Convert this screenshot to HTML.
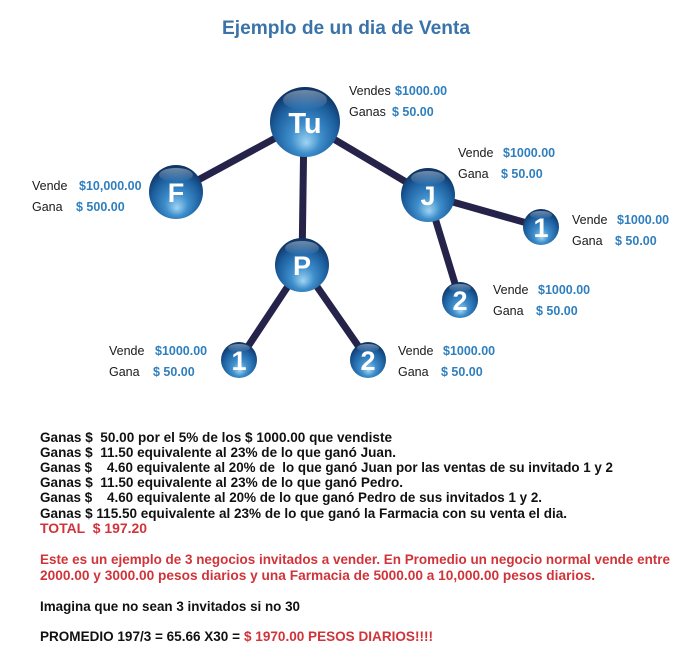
<!DOCTYPE html>
<html><head><meta charset="utf-8"><style>
html,body{margin:0;padding:0;background:#fff;width:700px;height:657px;overflow:hidden}
svg{display:block}
.lb{font-family:"Liberation Sans",sans-serif;font-size:12.5px;fill:#1a1a1a}
.bl{font-family:"Liberation Sans",sans-serif;font-size:12.5px;font-weight:bold;fill:#2f7fbf}
.tx{font-family:"Liberation Sans",sans-serif;font-size:14px;font-weight:bold;fill:#111}
.rd{font-family:"Liberation Sans",sans-serif;font-size:14px;font-weight:bold;fill:#d0343a}
.nd{font-family:"Liberation Sans",sans-serif;fill:#fff;text-anchor:middle}
</style></head><body>
<svg width="700" height="657" viewBox="0 0 700 657" xmlns="http://www.w3.org/2000/svg">
<defs>
<radialGradient id="g" cx="50%" cy="62%" r="60%" fx="52%" fy="80%">
<stop offset="0" stop-color="#9fd4f2"/>
<stop offset="0.35" stop-color="#3f8fcc"/>
<stop offset="0.75" stop-color="#1c5e9e"/>
<stop offset="1" stop-color="#0e3464"/>
</radialGradient>
<linearGradient id="h" x1="0" y1="0" x2="0" y2="1">
<stop offset="0" stop-color="#fff" stop-opacity="0.4"/>
<stop offset="1" stop-color="#fff" stop-opacity="0"/>
</linearGradient>
</defs>
<text x="346" y="34" text-anchor="middle" font-family="Liberation Sans,sans-serif" font-size="19" font-weight="bold" fill="#3a73aa" textLength="248" lengthAdjust="spacingAndGlyphs">Ejemplo de un dia de Venta</text>

<g stroke="#25234a" stroke-width="7" stroke-linecap="round">
<line x1="305" y1="122" x2="176" y2="192"/>
<line x1="305" y1="122" x2="428" y2="195"/>
<line x1="304" y1="122" x2="302" y2="265"/>
<line x1="428" y1="195" x2="541" y2="227"/>
<line x1="428" y1="195" x2="460" y2="300"/>
<line x1="302" y1="265" x2="239" y2="360"/>
<line x1="302" y1="265" x2="368" y2="360"/>
</g>

<g>
<circle cx="305" cy="122" r="35" fill="url(#g)"/><ellipse cx="305" cy="100" rx="22" ry="10" fill="url(#h)"/>
<text class="nd" x="305" y="133" font-size="29" font-weight="bold">Tu</text>
<circle cx="176" cy="192" r="27" fill="url(#g)"/><ellipse cx="176" cy="175" rx="17" ry="7" fill="url(#h)"/>
<text class="nd" x="176" y="202" font-size="27" font-weight="bold">F</text>
<circle cx="428" cy="195" r="27" fill="url(#g)"/><ellipse cx="428" cy="178" rx="17" ry="7" fill="url(#h)"/>
<text class="nd" x="428" y="205" font-size="27" font-weight="bold">J</text>
<circle cx="302" cy="265" r="27" fill="url(#g)"/><ellipse cx="302" cy="248" rx="17" ry="7" fill="url(#h)"/>
<text class="nd" x="302" y="275" font-size="27" font-weight="bold">P</text>
<circle cx="541" cy="227" r="18" fill="url(#g)"/><ellipse cx="541" cy="215" rx="11" ry="4" fill="url(#h)"/>
<text class="nd" x="541" y="237" font-size="27" font-weight="bold">1</text>
<circle cx="460" cy="300" r="18" fill="url(#g)"/><ellipse cx="460" cy="288" rx="11" ry="4" fill="url(#h)"/>
<text class="nd" x="460" y="310" font-size="27" font-weight="bold">2</text>
<circle cx="239" cy="360" r="18" fill="url(#g)"/><ellipse cx="239" cy="348" rx="11" ry="4" fill="url(#h)"/>
<text class="nd" x="239" y="370" font-size="27" font-weight="bold">1</text>
<circle cx="368" cy="360" r="18" fill="url(#g)"/><ellipse cx="368" cy="348" rx="11" ry="4" fill="url(#h)"/>
<text class="nd" x="368" y="370" font-size="27" font-weight="bold">2</text>
</g>

<text class="lb" x="349" y="95">Vendes</text><text class="bl" x="395" y="95">$1000.00</text>
<text class="lb" x="349" y="116">Ganas</text><text class="bl" x="392" y="116">$ 50.00</text>

<text class="lb" x="458" y="157">Vende</text><text class="bl" x="503" y="157">$1000.00</text>
<text class="lb" x="458" y="178">Gana</text><text class="bl" x="501" y="178">$ 50.00</text>

<text class="lb" x="32" y="190">Vende</text><text class="bl" x="79" y="190">$10,000.00</text>
<text class="lb" x="32" y="211">Gana</text><text class="bl" x="76" y="211">$ 500.00</text>

<text class="lb" x="572" y="224">Vende</text><text class="bl" x="617" y="224">$1000.00</text>
<text class="lb" x="572" y="245">Gana</text><text class="bl" x="615" y="245">$ 50.00</text>

<text class="lb" x="493" y="294">Vende</text><text class="bl" x="538" y="294">$1000.00</text>
<text class="lb" x="493" y="315">Gana</text><text class="bl" x="536" y="315">$ 50.00</text>

<text class="lb" x="109" y="355">Vende</text><text class="bl" x="155" y="355">$1000.00</text>
<text class="lb" x="109" y="376">Gana</text><text class="bl" x="153" y="376">$ 50.00</text>

<text class="lb" x="398" y="355">Vende</text><text class="bl" x="443" y="355">$1000.00</text>
<text class="lb" x="398" y="376">Gana</text><text class="bl" x="441" y="376">$ 50.00</text>

<text class="tx" x="40" y="442" textLength="352" lengthAdjust="spacingAndGlyphs" xml:space="preserve">Ganas $  50.00 por el 5% de los $ 1000.00 que vendiste</text>
<text class="tx" x="40" y="457" textLength="356" lengthAdjust="spacingAndGlyphs" xml:space="preserve">Ganas $  11.50 equivalente al 23% de lo que ganó Juan.</text>
<text class="tx" x="40" y="472" textLength="573" lengthAdjust="spacingAndGlyphs" xml:space="preserve">Ganas $    4.60 equivalente al 20% de  lo que ganó Juan por las ventas de su invitado 1 y 2</text>
<text class="tx" x="40" y="487" textLength="363" lengthAdjust="spacingAndGlyphs" xml:space="preserve">Ganas $  11.50 equivalente al 23% de lo que ganó Pedro.</text>
<text class="tx" x="40" y="502" textLength="502" lengthAdjust="spacingAndGlyphs" xml:space="preserve">Ganas $    4.60 equivalente al 20% de lo que ganó Pedro de sus invitados 1 y 2.</text>
<text class="tx" x="40" y="518" textLength="527" lengthAdjust="spacingAndGlyphs" xml:space="preserve">Ganas $ 115.50 equivalente al 23% de lo que ganó la Farmacia con su venta el dia.</text>
<text class="rd" x="40" y="533" textLength="107" lengthAdjust="spacingAndGlyphs" xml:space="preserve">TOTAL  $ 197.20</text>

<text class="rd" x="40" y="564" textLength="630" lengthAdjust="spacingAndGlyphs">Este es un ejemplo de 3 negocios invitados a vender. En Promedio un negocio normal vende entre</text>
<text class="rd" x="40" y="580" textLength="555" lengthAdjust="spacingAndGlyphs">2000.00 y 3000.00 pesos diarios y una Farmacia de 5000.00 a 10,000.00 pesos diarios.</text>

<text class="tx" x="40" y="611" textLength="260" lengthAdjust="spacingAndGlyphs">Imagina que no sean 3 invitados si no 30</text>

<text class="tx" x="40" y="641" textLength="200" lengthAdjust="spacingAndGlyphs">PROMEDIO 197/3 = 65.66 X30 =</text>
<text class="rd" x="244" y="641" textLength="189" lengthAdjust="spacingAndGlyphs">$ 1970.00 PESOS DIARIOS!!!!</text>
</svg>
</body></html>
